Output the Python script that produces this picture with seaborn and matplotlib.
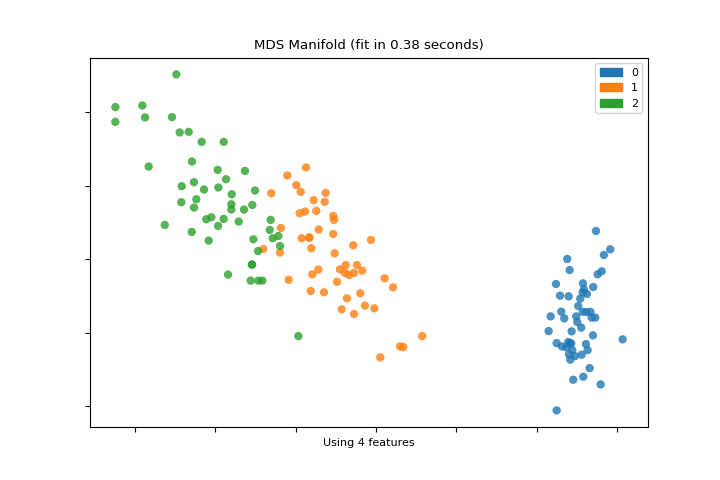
import numpy as np
import pandas as pd
import matplotlib
matplotlib.use("Agg")
import matplotlib.pyplot as plt
from matplotlib.patches import Patch
import seaborn as sns

plt.rcParams["font.size"] = 8

# Pixel-read positions converted to data units (x: 80.33 px/unit, 0 at px 376; y: 73.5 px/unit, 0 at px 259)
green_px = [
    (176.3, 74.3), (115.3, 107), (142.3, 105.3), (115.3, 121.7), (145, 117.3),
    (172, 117), (179.7, 132.3), (188.7, 131.7), (201.7, 141.7), (223.7, 141.7),
    (148.7, 166.3), (192, 161.3), (217.7, 169.7), (245, 170.7), (226, 179),
    (181.7, 186), (194, 182), (204, 189.3), (218.3, 187.3), (231.7, 194),
    (255, 190.3), (181.3, 202), (196.3, 199), (194, 207.3), (231.3, 204),
    (231.3, 209.3), (244, 209.3), (252.3, 204.7), (206.3, 219), (211.3, 217),
    (223.7, 218.7), (218, 225.7), (238.7, 221.3), (164.7, 224.7), (191.7, 231.7),
    (208.7, 240.3), (228, 274.3), (270.7, 219.7), (269.7, 229.7), (272.7, 238),
    (278.3, 235.7), (253.3, 239), (280, 245.7), (258, 250.7), (252, 264.3),
    (252, 264.3), (250.7, 280.3), (258.3, 280.3), (262.3, 280.3), (298.3, 335.7),
]
orange_px = [
    (306, 167.3), (287.3, 175.3), (296.3, 185), (300.7, 191.7), (271.3, 193),
    (325.7, 192.7), (313.7, 200), (324.7, 201.7), (299.7, 213), (305, 211.3),
    (316.3, 210.7), (333.3, 215.7), (334, 219.7), (281, 227.7), (318.7, 229.3),
    (333.3, 233.7), (301.7, 238), (309.3, 237.3), (309.3, 237.3), (353.3, 245),
    (311.3, 248), (263.3, 248.7), (280, 252.3), (334.7, 253), (371, 239.7),
    (345.7, 264.7), (357, 264.7), (340, 269), (345, 272.7), (349, 274.7),
    (354, 272.7), (362.3, 270.3), (318.3, 269.3), (312.3, 274), (288.7, 279.5),
    (337, 281.5), (384.7, 278), (393, 287), (310.7, 290.7), (324, 292),
    (360.3, 293), (347, 298), (365, 305.3), (374.3, 308), (341.7, 309),
    (354, 313.7), (422.3, 335.7), (400, 346), (403.3, 346.7), (380.3, 357),
]
blue_px = [
    (596, 230.7), (610.3, 249), (604, 254.7), (567.3, 258.7), (569.7, 269.7),
    (601.7, 271), (597.7, 274), (556, 283.7), (583, 283), (593.3, 286.7),
    (584, 289), (582.7, 292), (587, 293.7), (560, 295.3), (568.7, 296),
    (580.3, 298.3), (578.3, 305.7), (561.3, 311.3), (582.7, 311.5), (586.5, 311.7),
    (590.5, 311.5), (550.7, 316), (564.3, 318), (576.3, 316), (591.7, 317.3),
    (595.3, 317.3), (577.3, 321.7), (581.3, 327.3), (548.7, 330.7), (571.7, 331),
    (593, 335), (622.7, 339), (556.7, 342.7), (568.3, 341.7), (571.3, 343),
    (562, 346), (566.3, 347), (586, 343.7), (572.3, 349.7), (587.7, 349.7),
    (569, 354), (581.7, 354.3), (575, 355.7), (570.3, 359.3), (589.7, 367.7),
    (583.3, 376.3), (573.3, 379.3), (600.7, 384), (556.7, 410), (570, 343),
]

def to_data(pts):
    x = [round((px - 376) / 80.33, 3) for px, py in pts]
    y = [round((259 - py) / 73.5, 3) for px, py in pts]
    return x, y

x0, y0 = to_data(blue_px)
x1, y1 = to_data(orange_px)
x2, y2 = to_data(green_px)

labels = ["0", "1", "2"]
colors = ["#1f77b4", "#ff7f0e", "#2ca02c"]

df = pd.DataFrame({
    "x": x0 + x1 + x2,
    "y": y0 + y1 + y2,
    "label": ["0"] * len(x0) + ["1"] * len(x1) + ["2"] * len(x2),
})

fig, ax = plt.subplots(figsize=(7.2, 4.8), dpi=100)
sns.scatterplot(data=df, x="x", y="y", hue="label", hue_order=labels,
                palette=colors, alpha=0.8, s=36, linewidth=0,
                ax=ax, legend=False)
ax.set_title("MDS Manifold (fit in 0.38 seconds)")
ax.set_xlabel("Using 4 features")
ax.set_ylabel("")
ax.tick_params(labelbottom=False, labelleft=False)
handles = [Patch(color=c, label=l) for c, l in zip(colors, labels)]
ax.legend(handles=handles, loc="upper right")
fig.savefig("out.png", dpi=100)
